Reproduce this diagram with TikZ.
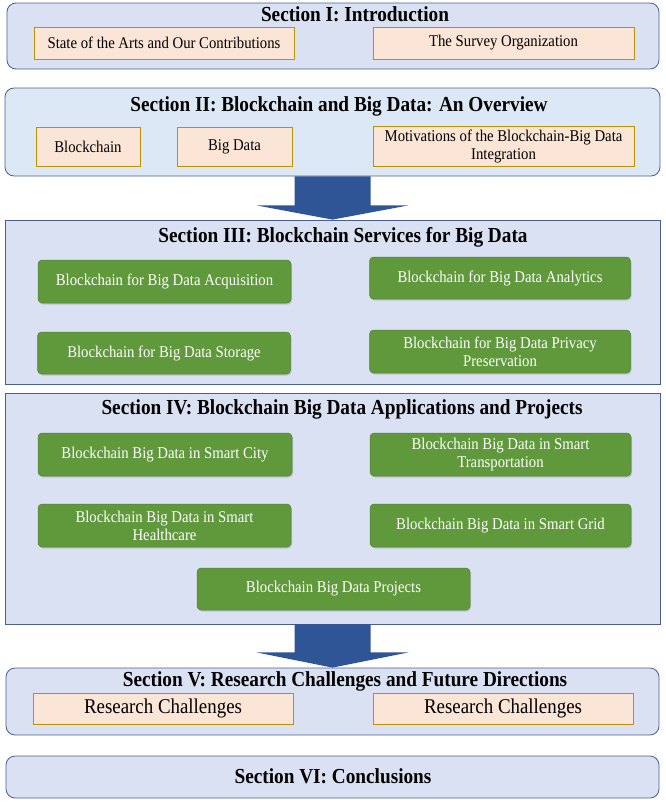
\documentclass[tikz,border=0pt]{standalone}
\usepackage{fontspec}
\setmainfont{Liberation Serif}[FakeStretch=0.9]
\usetikzlibrary{calc,shadows}
\definecolor{secfill}{HTML}{DAE1F3}
\definecolor{secfilltwo}{HTML}{DDE8F6}
\definecolor{secline}{HTML}{4A5F8F}
\definecolor{peach}{HTML}{FBE5D6}
\definecolor{peachline}{HTML}{BF9000}
\definecolor{leaf}{HTML}{5F993B}
\definecolor{leafline}{HTML}{548235}
\definecolor{arrowblue}{HTML}{2F5597}
\begin{document}
\begin{tikzpicture}[x=1pt,y=-1pt,
  secbox/.style={draw=secline,line width=0.8pt,fill=secfill,rounded corners=9pt,inner sep=0pt},
  sqbox/.style={secbox,rounded corners=0pt},
  sectitle/.style={font=\fontsize{21.4}{23}\selectfont\bfseries,inner sep=0pt},
  topic/.style={draw=peachline,line width=0.8pt,fill=peach,align=center,inner sep=0pt,
    font=\fontsize{16.4}{18}\selectfont,
    drop shadow={shadow xshift=1pt,shadow yshift=-1.2pt,opacity=0.25}},
  service/.style={draw=leafline,line width=0.5pt,fill=leaf,text=white,rounded corners=4pt,
    align=center,inner sep=0pt,font=\fontsize{16.4}{18}\selectfont,
    drop shadow={shadow xshift=1pt,shadow yshift=-1.5pt,opacity=0.3}},
  bigarrow/.style={fill=arrowblue}]
\useasboundingbox (0,0) rectangle (665,803);

% Section I
\node[secbox,minimum width=652,minimum height=66] (sec1) at (333,36) {};
\node[sectitle] (t1) at (355,14) {Section I: Introduction};
\node[topic,minimum width=260,minimum height=32] (arts) at (164,43)
  {State of the Arts and Our Contributions};
\node[topic,minimum width=261,minimum height=32] (org) at (503.5,43)
  {The Survey Organization};

% Section II
\node[secbox,fill=secfilltwo,minimum width=655,minimum height=88] (sec2) at (332.5,132) {};
\node[sectitle] (t2) at (339,106) {Section II: Blockchain and Big Data: An Overview};
\node[topic,minimum width=104,minimum height=39] (bc) at (88,146.5) {Blockchain};
\node[topic,minimum width=115,minimum height=39] (bd) at (234.5,146.5) {Big Data};
\node[topic,minimum width=261,minimum height=40] (mot) at (503.5,146)
  {Motivations of the Blockchain-Big Data\\Integration};

% Section III
\node[sqbox,minimum width=655,minimum height=164] (sec3) at (332.5,302) {};
\node[sectitle] (t3) at (343,237) {Section III: Blockchain Services for Big Data};
\node[service,minimum width=253,minimum height=43] (acq) at (164.5,281.5)
  {Blockchain for Big Data Acquisition};
\node[service,minimum width=261,minimum height=42] (ana) at (500,278)
  {Blockchain for Big Data Analytics};
\node[service,minimum width=253,minimum height=42] (sto) at (164,353)
  {Blockchain for Big Data Storage};
\node[service,minimum width=261,minimum height=43] (priv) at (500,351.5)
  {Blockchain for Big Data Privacy\\Preservation};

% Section IV
\node[sqbox,minimum width=655,minimum height=231] (sec4) at (332.5,508.5) {};
\node[sectitle] (t4) at (342,409) {Section IV: Blockchain Big Data Applications and Projects};
\node[service,minimum width=254,minimum height=43] (city) at (165,454.5)
  {Blockchain Big Data in Smart City};
\node[service,minimum width=261,minimum height=43] (trans) at (500.5,454.5)
  {Blockchain Big Data in Smart\\Transportation};
\node[service,minimum width=253,minimum height=43] (health) at (164.5,525.5)
  {Blockchain Big Data in Smart\\Healthcare};
\node[service,minimum width=261,minimum height=43] (grid) at (500.5,525.5)
  {Blockchain Big Data in Smart Grid};
\node[service,minimum width=273,minimum height=42] (proj) at (333.5,589)
  {Blockchain Big Data Projects};

% Section V
\node[secbox,minimum width=653,minimum height=67] (sec5) at (332.5,701.5) {};
\node[sectitle] (t5) at (345,681) {Section V: Research Challenges and Future Directions};
\node[topic,minimum width=260,minimum height=31,font=\fontsize{21}{23}\selectfont] (rc1) at (163,708.5)
  {Research Challenges};
\node[topic,minimum width=260,minimum height=31,font=\fontsize{21}{23}\selectfont] (rc2) at (503,708.5)
  {Research Challenges};

% Section VI
\node[secbox,minimum width=653,minimum height=42] (sec6) at (332.5,777) {};
\node[sectitle] (t6) at (333,776) {Section VI: Conclusions};

% block arrows
\fill[bigarrow] ($(sec2.south)+(-38,0)$) -- ($(sec2.south)+(38,0)$)
  -- ($(sec2.south)+(38,29)$) -- ($(sec2.south)+(76,29)$) -- (sec3.north)
  -- ($(sec2.south)+(-76,29)$) -- ($(sec2.south)+(-38,29)$) -- cycle;
\fill[bigarrow] ($(sec4.south)+(-38,0)$) -- ($(sec4.south)+(38,0)$)
  -- ($(sec4.south)+(38,28)$) -- ($(sec4.south)+(76,28)$) -- (sec5.north)
  -- ($(sec4.south)+(-76,28)$) -- ($(sec4.south)+(-38,28)$) -- cycle;
\end{tikzpicture}
\end{document}
